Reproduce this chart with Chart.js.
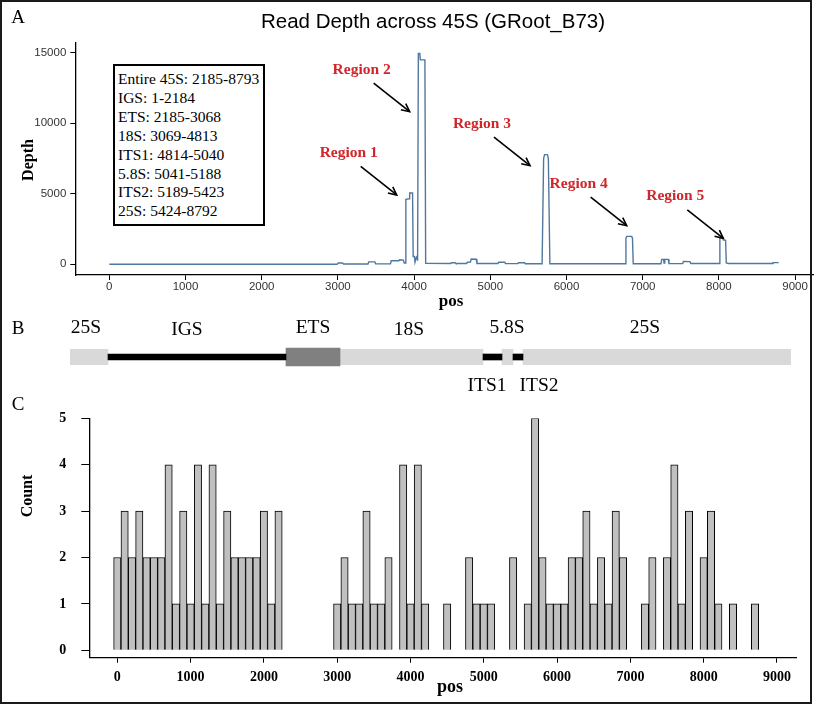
<!DOCTYPE html>
<html><head><meta charset="utf-8">
<script src="https://cdn.jsdelivr.net/npm/chart.js@4.4.1/dist/chart.umd.min.js"></script>
<style>
html,body{margin:0;padding:0;background:#fff;}
#wrap{position:relative;width:818px;height:704px;overflow:hidden;background:#fff;}
canvas{position:absolute;left:0;}
.t{position:absolute;white-space:nowrap;font-family:"Liberation Serif","Times New Roman",serif;color:#000;line-height:1;transform:translate(-50%,-50%);z-index:5;}
.rot{transform:translate(-50%,-50%) rotate(-90deg);}
#frame{position:absolute;left:0;top:0;width:812px;height:704px;box-sizing:border-box;border:2px solid #1a1a1a;z-index:6;pointer-events:none;}
#legbox{position:absolute;left:113px;top:64px;width:152px;height:162px;box-sizing:border-box;border:2px solid #000;background:#fff;z-index:5;
 font-family:"Liberation Serif","Times New Roman",serif;font-size:15.5px;line-height:18.9px;padding:4px 0 0 3px;color:#000;white-space:nowrap;}
</style></head>
<body><div id="wrap">
<canvas id="cA" width="818" height="310" style="top:0"></canvas>
<canvas id="cB" width="818" height="44" style="top:335px"></canvas>
<canvas id="cC" width="818" height="309" style="top:395px"></canvas>
<div id="frame"></div>
</div>
<script>
// ---------- Panel A: read depth ----------
const depthPos = [0,2990,3005,3060,3075,3395,3405,3485,3495,3690,3700,3800,3810,3860,3870,3884,3892,3935,3942,3980,3988,4005,4012,4030,4038,4046,4056,4075,4082,4142,4152,4480,4490,4540,4550,4690,4700,4740,4750,4815,4825,5100,5110,5190,5200,5360,5370,5450,5460,5680,5700,5712,5750,5762,5782,6770,6780,6792,6856,6866,6876,7240,7250,7275,7280,7290,7335,7345,7525,7535,7620,7630,8003,8013,8050,8057,8088,8097,8130,8700,8710,8785];
const depthVal = [0,0,90,90,20,20,170,170,30,30,250,250,320,300,90,90,4600,4650,5060,5060,550,550,150,500,600,250,14950,14950,14500,14500,70,60,110,110,60,60,150,160,380,360,60,60,140,140,50,50,110,110,40,40,7500,7780,7780,7500,40,40,1850,1980,1980,1850,40,40,350,350,90,350,350,50,50,200,190,60,60,1880,1900,1730,1700,90,60,60,120,120];
const xTicksA = [0,1000,2000,3000,4000,5000,6000,7000,8000,9000];
const yTicksA = [0,5000,10000,15000];
const regionNames = ['Region 1','Region 2','Region 3','Region 4','Region 5'];
const regionPos = [3772,3942,5521,6790,8058];
const regionDepth = [4915,10823,6993,2738,1844];
const legendLines = ['Entire 45S: 2185-8793','IGS: 1-2184','ETS: 2185-3068','18S: 3069-4813','ITS1: 4814-5040','5.8S: 5041-5188','ITS2: 5189-5423','25S: 5424-8792'];

// ---------- Panel B: rDNA schematic (schematic lengths, not to scale) ----------
const segNames = ['25S','IGS','ETS','18S','ITS1','5.8S','ITS2','25S'];
const segKind  = ['rRNA','spacer','ETS','rRNA','spacer','rRNA','spacer','rRNA'];
const segStart = [0,38,216,270,413,432,443,453];
const segEnd   = [38,216,270,413,432,443,453,721];

// ---------- Panel C: histogram ----------
const binPos = [0,100,200,300,400,500,600,700,800,900,1000,1100,1200,1300,1400,1500,1600,1700,1800,1900,2000,2100,2200,2300,2400,2500,2600,2700,2800,2900,3000,3100,3200,3300,3400,3500,3600,3700,3800,3900,4000,4100,4200,4300,4400,4500,4600,4700,4800,4900,5000,5100,5200,5300,5400,5500,5600,5700,5800,5900,6000,6100,6200,6300,6400,6500,6600,6700,6800,6900,7000,7100,7200,7300,7400,7500,7600,7700,7800,7900,8000,8100,8200,8300,8400,8500,8600,8700];
const binCount = [2,3,2,3,2,2,2,4,1,3,1,4,1,4,1,3,2,2,2,2,3,1,3,0,0,0,0,0,0,0,1,2,1,1,3,1,1,2,0,4,1,4,1,0,0,1,0,0,2,1,1,1,0,0,2,0,1,5,2,1,1,1,2,2,3,1,2,1,3,2,0,0,1,2,0,2,4,1,3,0,2,3,1,0,1,0,0,1];
const xTicksC = [0,1000,2000,3000,4000,5000,6000,7000,8000,9000];
const yTicksC = [0,1,2,3,4,5];

const SERIF = '"Liberation Serif","Times New Roman",serif';
const SANS = '"Liberation Sans",Arial,sans-serif';
const plain = v => String(v);

// overlay texts
const wrap = document.getElementById('wrap');
function addText(txt, x, y, css, cls){
  const d = document.createElement('div');
  d.className = 't' + (cls ? ' ' + cls : '');
  d.textContent = txt; d.style.left = x + 'px'; d.style.top = y + 'px';
  d.style.cssText += css; wrap.appendChild(d); return d;
}
addText('A', 18, 16, 'font-size:19px;');
addText('B', 18, 327, 'font-size:19px;');
addText('C', 18, 403, 'font-size:19px;');
addText('Read Depth across 45S (GRoot_B73)', 433, 21, 'font-family:' + SANS + ';font-size:20.5px;');
addText('Depth', 28, 160, 'font-size:16px;font-weight:bold;', 'rot');
addText('pos', 451, 300, 'font-size:17px;font-weight:bold;');
addText('Count', 27, 496, 'font-size:16px;font-weight:bold;', 'rot');
addText('pos', 450, 686, 'font-size:18px;font-weight:bold;');
const leg = document.createElement('div'); leg.id = 'legbox';
leg.innerHTML = legendLines.map(s => '<div>' + s + '</div>').join('');
wrap.appendChild(leg);
// panel B labels
const segLabelPos = {'25S_0':[86,327],'IGS':[187,329],'ETS':[313,327],'18S':[409,329],'5.8S':[507,327],'25S_7':[645,327],'ITS1':[487,385],'ITS2':[539,385]};
segNames.forEach((n,i) => {
  const key = segLabelPos[n] ? n : n + '_' + i;
  const p = segLabelPos[key]; if (p) addText(n, p[0], p[1], 'font-size:19.5px;');
});

const regionPlugin = {
  id: 'regions',
  afterDatasetsDraw(chart){
    const {ctx, scales:{x, y}} = chart;
    ctx.save();
    regionNames.forEach((name, i) => {
      const tx = x.getPixelForValue(regionPos[i]), ty = y.getPixelForValue(regionDepth[i]);
      const sx = tx - 36, sy = ty - 28.5;
      ctx.strokeStyle = '#000'; ctx.lineWidth = 1.6;
      ctx.beginPath(); ctx.moveTo(sx, sy); ctx.lineTo(tx, ty); ctx.stroke();
      const ang = Math.atan2(ty - sy, tx - sx), L = 9, a = 0.45;
      ctx.beginPath();
      ctx.moveTo(tx - L*Math.cos(ang - a), ty - L*Math.sin(ang - a));
      ctx.lineTo(tx, ty);
      ctx.lineTo(tx - L*Math.cos(ang + a), ty - L*Math.sin(ang + a));
      ctx.stroke();
      ctx.fillStyle = '#d0262b'; ctx.font = 'bold 15.5px ' + SERIF;
      ctx.textAlign = 'center'; ctx.textBaseline = 'middle';
      ctx.fillText(name, tx - 48, ty - 42);
    });
    ctx.restore();
  }
};

Chart.defaults.animation = false;

// Panel A chart
new Chart(document.getElementById('cA'), {
  type: 'line',
  data: { datasets: [{ data: depthPos.map((p, i) => ({x: p, y: depthVal[i]})),
    borderColor: '#52779e', borderWidth: 1.4, pointRadius: 0, tension: 0, fill: false }] },
  options: {
    responsive: false, maintainAspectRatio: false, events: [],
    layout: { padding: { top: 43, right: 4.7, left: 0, bottom: 0 } },
    plugins: { legend: { display: false }, tooltip: { enabled: false }, title: { display: false } },
    scales: {
      x: { type: 'linear', min: -446, max: 9239,
        afterFit: s => { s.height = 35; },
        afterBuildTicks: s => { s.ticks = xTicksA.map(v => ({value: v})); },
        grid: { display: true, drawOnChartArea: false, drawTicks: true, tickLength: 5, color: '#000', tickColor: '#000', tickWidth: 1 },
        border: { display: true, color: '#000', width: 1.3 },
        ticks: { font: { family: SANS, size: 11.5 }, color: '#333', padding: 0, maxRotation: 0, autoSkip: false, callback: plain }
      },
      y: { type: 'linear', min: -759, max: 15695,
        afterFit: s => { s.width = 75.3; },
        afterBuildTicks: s => { s.ticks = yTicksA.map(v => ({value: v})); },
        grid: { display: true, drawOnChartArea: false, drawTicks: true, tickLength: 5, color: '#000', tickColor: '#000', tickWidth: 1 },
        border: { display: true, color: '#000', width: 1.3 },
        ticks: { font: { family: SANS, size: 11.5 }, color: '#333', padding: 4, autoSkip: false, callback: plain }
      }
    }
  },
  plugins: [regionPlugin]
});

// Panel B chart
const kindStyle = {
  spacer: { color: '#000000', thick: 6 },
  ETS: { color: '#808080', thick: 18 },
  rRNA: { color: '#d9d9d9', thick: 15.5 }
};
const bDatasets = ['spacer', 'ETS', 'rRNA'].map(k => ({
  data: segNames.map((n, i) => segKind[i] === k ? { x: [segStart[i], segEnd[i]], y: 'rDNA' } : null).filter(d => d),
  backgroundColor: kindStyle[k].color, borderWidth: 0, barThickness: kindStyle[k].thick, grouped: false
}));
new Chart(document.getElementById('cB'), {
  type: 'bar',
  data: { labels: ['rDNA'], datasets: bDatasets },
  options: {
    indexAxis: 'y', responsive: false, maintainAspectRatio: false, events: [],
    layout: { padding: { left: 70, right: 27, top: 0, bottom: 0 } },
    plugins: { legend: { display: false }, tooltip: { enabled: false } },
    scales: {
      x: { type: 'linear', min: 0, max: 721, display: false },
      y: { type: 'category', display: false }
    }
  }
});

// Panel C chart
new Chart(document.getElementById('cC'), {
  type: 'bar',
  data: { datasets: [{ data: binPos.map((p, i) => ({x: p, y: binCount[i]})),
    backgroundColor: c => (c.raw && c.raw.y > 0) ? '#c0c0c0' : 'rgba(0,0,0,0)',
    borderColor: c => (c.raw && c.raw.y > 0) ? '#000' : 'rgba(0,0,0,0)',
    borderWidth: c => (c.raw && c.raw.y > 0) ? 1 : 0,
    barPercentage: 1, categoryPercentage: 1, borderSkipped: 'start' }] },
  options: {
    responsive: false, maintainAspectRatio: false, events: [],
    layout: { padding: { top: 14, right: 21.3, left: 0, bottom: 0 } },
    plugins: { legend: { display: false }, tooltip: { enabled: false } },
    scales: {
      x: { type: 'linear', min: -382, max: 9269, offset: false,
        afterFit: s => { s.height = 46.3; },
        afterBuildTicks: s => { s.ticks = xTicksC.map(v => ({value: v})); },
        grid: { display: true, offset: false, drawOnChartArea: false, drawTicks: true, tickLength: 5, color: '#000', tickColor: '#000' },
        border: { display: true, color: '#000', width: 1.3 },
        ticks: { font: { family: SERIF, size: 14, weight: 'bold' }, color: '#000', padding: 6, maxRotation: 0, autoSkip: false, callback: plain }
      },
      y: { type: 'linear', min: -0.16, max: 5,
        afterFit: s => { s.width = 89.3; },
        afterBuildTicks: s => { s.ticks = yTicksC.map(v => ({value: v})); },
        grid: { display: true, drawOnChartArea: false, drawTicks: true, tickLength: 8, color: '#000', tickColor: '#000' },
        border: { display: true, color: '#000', width: 1.3 },
        ticks: { font: { family: SERIF, size: 14, weight: 'bold' }, color: '#000', padding: 15, autoSkip: false, callback: plain }
      }
    }
  }
});
</script>
</body></html>
